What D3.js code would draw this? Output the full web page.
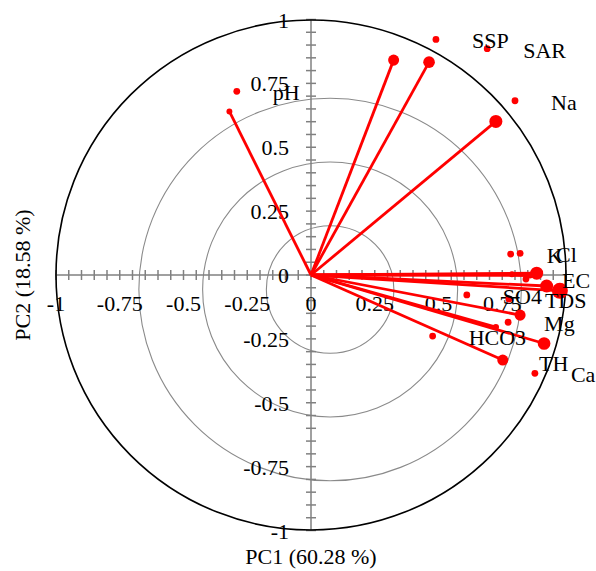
<!DOCTYPE html>
<html><head><meta charset="utf-8">
<script src="https://cdn.jsdelivr.net/npm/d3@7"></script>
<style>html,body{margin:0;padding:0;background:#fff;} svg{display:block;}</style>
</head><body>
<svg id="chart" width="596" height="571"></svg>
<script>
// ---- data ----
const variables = ["pH","SSP","SAR","Na","K","Cl","EC","TDS","SO4","Mg","TH","HCO3","Ca"];
const loadPC1 = [-0.320, 0.324, 0.463, 0.725, 0.788, 0.885, 0.924, 0.976, 0.859, 0.820, 0.725, 0.752, 0.914];
const loadPC2 = [ 0.640, 0.841, 0.833, 0.601, 0.003, 0.007,-0.043,-0.062,-0.002,-0.157,-0.204,-0.333,-0.268];
const contrib = [2.2, 7.6, 8.5, 10.6, 2.2, 10.6, 10.6, 16, 2.2, 7.6, 2.5, 7.6, 10.0];
// label anchor points (small dots)
const anchorPC1 = [-0.291, 0.490, 0.691, 0.800, 0.783, 0.820, 0.843, 0.776, 0.611, 0.773, 0.753, 0.477, 0.878];
const anchorPC2 = [ 0.719, 0.922, 0.886, 0.682, 0.082, 0.085,-0.016,-0.094,-0.078,-0.185,-0.339,-0.239,-0.385];
const tickValues = [-1, -0.75, -0.5, -0.25, 0, 0.25, 0.5, 0.75, 1];
const xTickLabels = ["-1","-0.75","-0.5","-0.25","0","0.25","0.5","0.75"];
const yTickLabels = ["-1","-0.75","-0.5","-0.25","0","0.25","0.5","0.75","1"];
const gridRadii = [0.25, 0.5, 0.75];
const gridCenter = [0.075, -0.057];
const xTitle = "PC1 (60.28 %)";
const yTitle = "PC2 (18.58 %)";

// ---- drawing ----
const svg = d3.select("#chart");
const FONT = "'Liberation Serif','Times New Roman',serif";
const x = d3.scaleLinear().domain([-1, 1]).range([56, 566]);
const y = d3.scaleLinear().domain([-1, 1]).range([530.5, 19.5]);
const unit = x(1) - x(0);
const r = d3.scaleSqrt().domain([0, d3.max(contrib)]).range([0, 8]);

// gray grid circles
svg.append("g").selectAll("circle").data(gridRadii).join("circle")
  .attr("cx", x(gridCenter[0])).attr("cy", y(gridCenter[1]))
  .attr("r", d => d * unit)
  .attr("fill", "none").attr("stroke", "#8a8a8a").attr("stroke-width", 1.1);

// axes
const minor = d3.range(-1, 1.0001, 0.05);
const ax = svg.append("g").attr("stroke", "#808080").attr("stroke-width", 1.5);
ax.append("line").attr("x1", x(-1)).attr("x2", x(1)).attr("y1", y(0)).attr("y2", y(0));
ax.append("line").attr("x1", x(0)).attr("x2", x(0)).attr("y1", y(-1)).attr("y2", y(1));
ax.selectAll(".tx").data(minor).join("line").attr("class","tx")
  .attr("x1", d => x(d)).attr("x2", d => x(d)).attr("y1", y(0) - 5).attr("y2", y(0) + 5);
ax.selectAll(".ty").data(minor).join("line").attr("class","ty")
  .attr("y1", d => y(d)).attr("y2", d => y(d)).attr("x1", x(0) - 5).attr("x2", x(0) + 5);

// outer unit circle
svg.append("circle").attr("cx", x(0)).attr("cy", y(0)).attr("r", unit)
  .attr("fill", "none").attr("stroke", "#000").attr("stroke-width", 1.6);

// tick labels
svg.append("g").selectAll("text").data(xTickLabels).join("text")
  .attr("x", (d, i) => x(tickValues[i])).attr("y", y(0) + 36)
  .attr("text-anchor", "middle").attr("font-family", FONT).attr("font-size", 22)
  .text(d => d);
svg.append("g").selectAll("text").data(yTickLabels).join("text")
  .attr("x", x(0) - 22).attr("y", (d, i) => y(tickValues[i]) + 8)
  .attr("text-anchor", "end").attr("font-family", FONT).attr("font-size", 22)
  .text(d => d);

// loading lines
const idx = d3.range(variables.length);
svg.append("g").selectAll("line").data(idx).join("line")
  .attr("x1", x(0)).attr("y1", y(0))
  .attr("x2", i => x(loadPC1[i])).attr("y2", i => y(loadPC2[i]))
  .attr("stroke", "#ff0000").attr("stroke-width", 2.8);
svg.append("g").selectAll("circle").data(idx).join("circle")
  .attr("cx", i => x(loadPC1[i])).attr("cy", i => y(loadPC2[i]))
  .attr("r", i => r(contrib[i])).attr("fill", "#ff0000");

// label anchor dots
svg.append("g").selectAll("circle").data(idx).join("circle")
  .attr("cx", i => x(anchorPC1[i])).attr("cy", i => y(anchorPC2[i]))
  .attr("r", 3.4).attr("fill", "#ff0000");

// variable labels
svg.append("g").selectAll("text").data(idx).join("text")
  .attr("x", i => x(anchorPC1[i]) + 36).attr("y", i => y(anchorPC2[i]) + 9)
  .attr("font-family", FONT).attr("font-size", 22).attr("fill", "#000")
  .text(i => variables[i]);

// axis titles
svg.append("text").attr("x", x(0)).attr("y", 564)
  .attr("text-anchor", "middle").attr("font-family", FONT).attr("font-size", 22)
  .text(xTitle);
svg.append("text").attr("transform", `translate(30,${y(0)}) rotate(-90)`)
  .attr("text-anchor", "middle").attr("font-family", FONT).attr("font-size", 22)
  .text(yTitle);
</script>
</body></html>
